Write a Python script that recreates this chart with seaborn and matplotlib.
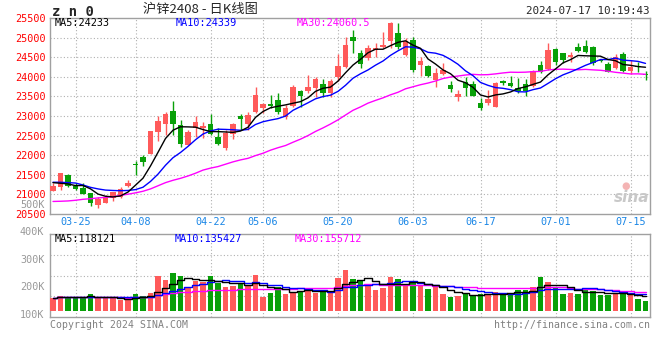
import matplotlib
matplotlib.use("Agg")
import matplotlib.pyplot as plt
import numpy as np
import pandas as pd
import seaborn as sns

# ---------------- data ----------------
dates = ["03-20", "03-21", "03-22", "03-25", "03-26", "03-27", "03-28", "03-29",
         "04-01", "04-02", "04-03", "04-08", "04-09", "04-10", "04-11", "04-12",
         "04-15", "04-16", "04-17", "04-18", "04-19", "04-22", "04-23", "04-24",
         "04-25", "04-26", "04-29", "04-30",
         "05-06", "05-07", "05-08", "05-09", "05-10", "05-13", "05-14", "05-15",
         "05-16", "05-17", "05-20", "05-21", "05-22", "05-23", "05-24", "05-27",
         "05-28", "05-29", "05-30", "05-31",
         "06-03", "06-04", "06-05", "06-06", "06-07", "06-11", "06-12", "06-13",
         "06-14", "06-17", "06-18", "06-19", "06-20", "06-21", "06-24", "06-25",
         "06-26", "06-27", "06-28",
         "07-01", "07-02", "07-03", "07-04", "07-05", "07-08", "07-09", "07-10",
         "07-11", "07-12", "07-15", "07-16", "07-17"]

opens = [21097, 21182, 21497, 21207, 21157, 21029, 20731, 20791, 20901, 20944,
         21207, 21777, 21964, 22032, 22602, 22797, 23129, 22771, 22261, 22687,
         22704, 22797, 22457, 22176, 22542, 23001, 22797, 23112, 23213, 23298,
         23409, 22984, 23264, 23638, 23638, 23706, 23808, 23596, 23987, 24242,
         25007, 24616, 24472, 24684, 24752, 24922, 25109, 24557, 24939, 24302,
         24276, 23919, 24072, 23792, 23486, 23876, 23817, 23341, 23324, 23239,
         23893, 23834, 23723, 23817, 23766, 24302, 24200, 24701, 24599, 24497,
         24769, 24794, 24769, 24429, 24327, 24217, 24582, 24158, 24285, 24063]
highs = [21284, 21550, 21510, 21284, 21284, 21040, 20944, 20986, 21072, 21199,
         21369, 21853, 22006, 22630, 23001, 23112, 23384, 22899, 22644, 23001,
         22840, 23044, 22687, 22644, 22814, 23044, 23112, 23749, 23324, 23536,
         23579, 23281, 23792, 23664, 24047, 24004, 23936, 23936, 24573, 25007,
         25194, 24684, 24812, 24854, 25152, 25390, 25364, 24982, 25024, 24514,
         24290, 24217, 24344, 23902, 23664, 24004, 23893, 23468, 23664, 23860,
         23919, 24021, 23978, 23936, 24174, 24404, 24854, 24727, 24616, 24641,
         24854, 24939, 24780, 24440, 24387, 24582, 24641, 24429, 24387, 24148]
lows = [21090, 21122, 21199, 21122, 21000, 20706, 20663, 20780, 20842, 20918,
        21200, 21497, 21735, 22020, 22364, 22517, 22517, 22219, 22250, 22474,
        22432, 22517, 22261, 22134, 22406, 22644, 22644, 23069, 23069, 23213,
        23044, 22916, 23239, 23239, 23579, 23494, 23494, 23494, 23902, 24217,
        24599, 24217, 24429, 24514, 24727, 24727, 24710, 24540, 24114, 24030,
        23987, 23749, 24047, 23604, 23392, 23519, 23511, 23154, 23281, 23230,
        23792, 23732, 23579, 23519, 23749, 24089, 24174, 24302, 24344, 24387,
        24641, 24599, 24302, 24390, 24114, 24200, 24131, 24063, 24131, 23919]
closes = [21216, 21539, 21225, 21140, 21012, 20791, 20876, 20944, 21055, 21140,
          21284, 21752, 21836, 22619, 22874, 23052, 22805, 22278, 22602, 22840,
          22746, 22542, 22278, 22559, 22788, 22916, 23026, 23536, 23307, 23264,
          23112, 23196, 23749, 23511, 23749, 23936, 23596, 23893, 24276, 24812,
          24922, 24327, 24727, 24727, 24812, 25381, 24752, 24922, 24174, 24404,
          24021, 24106, 24174, 23689, 23571, 23706, 23519, 23196, 23434, 23834,
          23834, 23766, 23638, 23647, 24148, 24131, 24684, 24387, 24429, 24556,
          24667, 24641, 24361, 24404, 24131, 24514, 24158, 24259, 24242, 24046]
volumes = [103000, 122000, 109000, 114000, 114000, 139000, 109000, 103000, 103000, 90000,
           103000, 139000, 122000, 144000, 286000, 253000, 307000, 286000, 199000, 248000,
           239000, 286000, 231000, 196000, 204000, 231000, 204000, 294000, 117000, 147000,
           196000, 139000, 158000, 158000, 190000, 150000, 166000, 158000, 272000, 335000,
           261000, 253000, 212000, 171000, 190000, 277000, 261000, 212000, 245000, 204000,
           180000, 199000, 139000, 117000, 125000, 144000, 131000, 139000, 139000, 158000,
           139000, 150000, 171000, 171000, 199000, 280000, 239000, 185000, 139000, 150000,
           139000, 171000, 166000, 131000, 131000, 144000, 158000, 131000, 98000, 82000]

# moving-average values at the left edge (history before the first candle)
ma5_head = [21300, 21284, 21267, 21224]
ma10_head = [21310, 21310, 21300, 21290, 21240, 21180, 21140, 21110, 21100]
ma30_head = [20820, 20825, 20833, 20850, 20875, 20890, 20910, 20925, 20940, 20975,
             21005, 21040, 21080, 21140, 21220, 21300, 21360, 21410, 21470, 21540,
             21620, 21670, 21710, 21770, 21830, 21880, 21920, 21990, 22050]

price_ticks = [20500, 21000, 21500, 22000, 22500, 23000, 23500, 24000, 24500, 25000, 25500]
vol_ticks = [100000, 200000, 300000, 400000, 500000]
vol_tick_labels = ["100K", "200K", "300K", "400K", "500K"]
date_labels = ["03-25", "04-08", "04-22", "05-06", "05-20", "06-03", "06-17", "07-01", "07-15"]

title_main = "沪锌2408 - 日K线图"
symbol = "z n 0"
stamp = "2024-07-17 10:19:43"
price_ma_text = ["MA5:24233", "MA10:24339", "MA30:24060.5"]
vol_ma_text = ["MA5:118121", "MA10:135427", "MA30:155712"]

# ---------------- frame ----------------
df = pd.DataFrame({"date": dates, "open": opens, "high": highs, "low": lows,
                   "close": closes, "volume": volumes})
df["idx"] = np.arange(len(df))
df["dir"] = np.where(df["close"] >= df["open"], "up", "down")
for w, head in ((5, ma5_head), (10, ma10_head), (30, ma30_head)):
    m = df["close"].rolling(w).mean().to_numpy()
    m[:len(head)] = head
    df[f"ma{w}"] = m
    df[f"vma{w}"] = df["volume"].rolling(w, min_periods=1).mean()

RED = "#FF5A5A"
GREEN = "#08A008"
GRID = "#B0B0B0"
FRAME = "#A0A0A0"
BLUE_TXT = "#1A86E6"

sns.set_theme(style="white")
plt.rcParams["font.family"] = ["DejaVu Sans Mono", "Noto Sans CJK SC"]

W, H = 660, 360
fig = plt.figure(figsize=(6.6, 3.6), dpi=100)
fig.patch.set_facecolor("white")

L, R = 50, 650
PT, PB = 18, 214
VT, VB = 234, 317
ax = fig.add_axes([L / W, 1 - PB / H, (R - L) / W, (PB - PT) / H])
axv = fig.add_axes([L / W, 1 - VB / H, (R - L) / W, (VB - VT) / H])

date_idx = [dates.index(d) for d in date_labels]
dotted = (0, (1, 2))
colors = np.where(df["dir"] == "up", RED, GREEN)

# ---------------- price panel ----------------
ax.vlines(df["idx"], df["low"], df["high"], colors=colors, lw=1, zorder=3)
body = np.maximum((df["close"] - df["open"]).abs(), 22)
ax.bar(df["idx"], body, bottom=np.minimum(df["open"], df["close"]), width=0.72,
       color=colors, linewidth=0, zorder=4)
for col, c in (("ma30", "#FF00FF"), ("ma10", "#0000FF"), ("ma5", "#000000")):
    sns.lineplot(x=df["idx"], y=df[col], color=c, lw=1, ax=ax, zorder=5,
                 estimator=None, legend=False)

ax.set_xlim(-0.4, len(df) - 0.4)
ax.set_ylim(20500, 25500)
ax.set_yticks(price_ticks)
ax.set_yticklabels([str(t) for t in price_ticks], color="#FF0000", fontsize=7.3)
ax.set_xticks(date_idx)
ax.set_xticklabels(date_labels, color=BLUE_TXT, fontsize=7.3)
ax.tick_params(axis="both", length=0, pad=3)
ax.tick_params(axis="x", pad=2.5)
for t in price_ticks[1:-1]:
    ax.axhline(t, color=GRID, lw=0.8, ls=dotted, zorder=1)
for i in date_idx:
    ax.axvline(i, color=GRID, lw=0.8, ls=dotted, zorder=1)
ax.set_xlabel("")
ax.set_ylabel("")
for s in ax.spines.values():
    s.set_color(FRAME)
    s.set_linewidth(1)

# ---------------- volume panel ----------------
axv.bar(df["idx"], df["volume"], width=0.75, color=colors, linewidth=0, zorder=3)
for col, c in (("vma30", "#FF00FF"), ("vma10", "#0000FF"), ("vma5", "#000000")):
    sns.lineplot(x=df["idx"], y=df[col], color=c, lw=1, ax=axv, zorder=5,
                 estimator=None, legend=False, drawstyle="steps-mid")
axv.set_xlim(-0.4, len(df) - 0.4)
v_lo, v_hi = -49000, 628000
axv.set_ylim(v_lo, v_hi)
for k in (1, 2, 3):
    axv.axhline(v_lo + (v_hi - v_lo) * k / 4, color=GRID, lw=0.8, ls=dotted, zorder=1)
for i in date_idx:
    axv.axvline(i, color=GRID, lw=0.8, ls=dotted, zorder=1)
axv.set_xticks([])
axv.set_yticks([])
axv.set_xlabel("")
axv.set_ylabel("")
for s in axv.spines.values():
    s.set_color(FRAME)
    s.set_linewidth(1)

# volume tick labels as drawn by the source (own label scale on the left)
axl = fig.add_axes([L / W, 1 - VB / H, (R - L) / W, (VB - 195) / H])
axl.set_ylim(89100, 532700)
axl.set_yticks(vol_ticks)
axl.set_yticklabels(vol_tick_labels, color="#999999", fontsize=7.3)
axl.set_xticks([])
axl.tick_params(axis="y", length=0, pad=4)
axl.patch.set_alpha(0)
for s in axl.spines.values():
    s.set_visible(False)

# ---------------- texts ----------------
fig.text(52 / W, 1 - 12 / H, symbol, fontsize=10, fontweight="bold", va="center", ha="left")
fig.text(200 / W, 1 - 10 / H, title_main, fontsize=9.5, va="center", ha="center",
         family=["Noto Sans CJK SC", "DejaVu Sans"])
fig.text(650 / W, 1 - 11 / H, stamp, fontsize=7.8, va="center", ha="right")

for txt, x, c in zip(price_ma_text, (55, 176, 297), ("#000000", "#0000FF", "#FF00FF")):
    fig.text(x / W, 1 - 23 / H, txt, fontsize=7.3, color=c, va="center", ha="left", zorder=10)
for txt, x, c in zip(vol_ma_text, (55, 175, 295), ("#000000", "#0000FF", "#FF00FF")):
    fig.text(x / W, 1 - 239 / H, txt, fontsize=7.3, color=c, va="center", ha="left", zorder=10)

fig.text(50 / W, 1 - 325 / H, "Copyright 2024 SINA.COM", fontsize=7.1, color="#808080",
         va="center", ha="left")
fig.text(650 / W, 1 - 325 / H, "http://finance.sina.com.cn", fontsize=7.1, color="#808080",
         va="center", ha="right")
fig.text(626 / W, 1 - 186 / H, "●", fontsize=7, color="#F4B4B4", va="center", ha="center",
         family="DejaVu Sans")
fig.text(632 / W, 1 - 197 / H, "sina", fontsize=11, fontstyle="italic", fontweight="bold",
         color="#C8C8C8", va="center", ha="center", family="DejaVu Sans")

fig.savefig("out.png", dpi=100, facecolor="white")
